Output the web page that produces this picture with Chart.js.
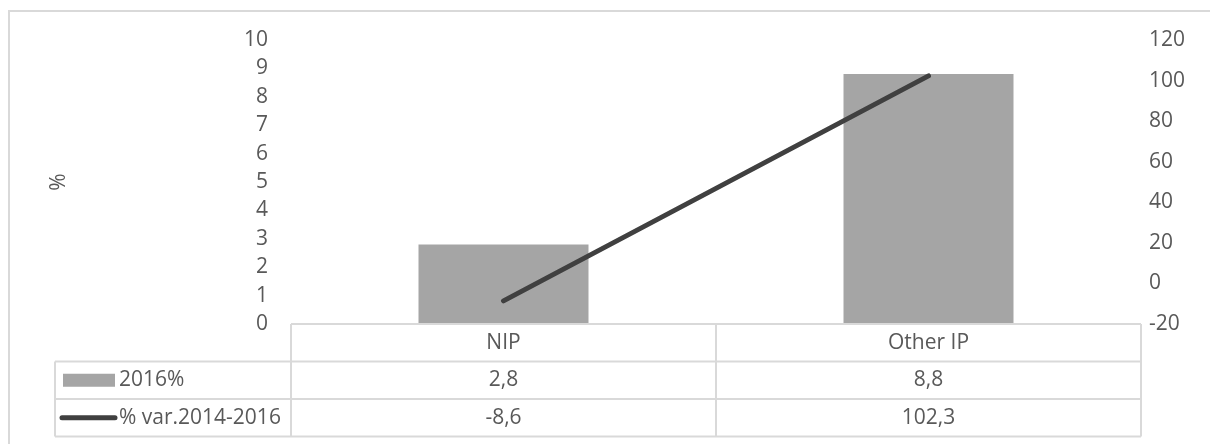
<!DOCTYPE html>
<html>
<head>
<meta charset="utf-8">
<script src="https://cdn.jsdelivr.net/npm/chart.js@4"></script>
<style>
  html, body { margin: 0; padding: 0; background: #ffffff; }
  #wrap { width: 1210px; height: 444px; }
</style>
</head>
<body>
<div id="wrap"><canvas id="chart" width="1210" height="444"></canvas></div>
<script>
// Categories and series
const categories = ['NIP', 'Other IP'];
const share2016 = [2.8, 8.8];          // 2016% (left axis)
const var2014_2016 = [-8.6, 102.3];    // % var.2014-2016 (right axis)
const seriesNames = ['2016%', '% var.2014-2016'];

const FONT = '"Open Sans", "DejaVu Sans", sans-serif';
const FSIZE = 21;
const TEXT = '#595959';
const RULE = '#d9d9d9';
const BAR = '#a5a5a5';
const LINE = '#404040';

const fmt = v => v.toFixed(1).replace('.', ',');

// Draws the outer frame and the data table under the plot
const dataTable = {
  id: 'dataTable',
  afterDraw(chart) {
    const ctx = chart.ctx;
    const xs = chart.scales.x;
    const area = chart.chartArea;
    const n = categories.length;
    const colW = (xs.right - xs.left) / n;
    const rowH = 37.5;
    const tableLeft = 55;
    const r0 = area.bottom;
    const rows = [r0, r0 + rowH, r0 + 2 * rowH, r0 + 3 * rowH];

    ctx.save();
    // outer frame
    ctx.strokeStyle = RULE;
    ctx.lineWidth = 2;
    ctx.strokeRect(9, 11, 1220, 450);

    // table grid
    ctx.beginPath();
    ctx.moveTo(xs.left, rows[0]); ctx.lineTo(xs.right, rows[0]);
    for (let i = 1; i < rows.length; i++) {
      ctx.moveTo(tableLeft, rows[i]); ctx.lineTo(xs.right, rows[i]);
    }
    ctx.moveTo(tableLeft, rows[1]); ctx.lineTo(tableLeft, rows[3]);
    for (let c = 0; c <= n; c++) {
      const x = xs.left + c * colW;
      ctx.moveTo(x, rows[0]); ctx.lineTo(x, rows[3]);
    }
    ctx.stroke();

    // cell text
    ctx.fillStyle = TEXT;
    ctx.font = FSIZE + 'px ' + FONT;
    ctx.textBaseline = 'middle';
    ctx.textAlign = 'center';
    for (let c = 0; c < n; c++) {
      const cx = xs.getPixelForValue(c);
      ctx.fillText(categories[c], cx, (rows[0] + rows[1]) / 2);
      ctx.fillText(fmt(share2016[c]), cx, (rows[1] + rows[2]) / 2);
      ctx.fillText(fmt(var2014_2016[c]), cx, (rows[2] + rows[3]) / 2);
    }

    // legend keys
    const y1 = (rows[1] + rows[2]) / 2;
    const y2 = (rows[2] + rows[3]) / 2;
    ctx.fillStyle = BAR;
    ctx.fillRect(63, y1 - 6.5, 52, 13);
    ctx.strokeStyle = LINE;
    ctx.lineWidth = 5;
    ctx.lineCap = 'round';
    ctx.beginPath();
    ctx.moveTo(62, y2); ctx.lineTo(115, y2);
    ctx.stroke();

    ctx.fillStyle = TEXT;
    ctx.textAlign = 'left';
    ctx.fillText(seriesNames[0], 119, y1);
    ctx.fillText(seriesNames[1], 119, y2);
    ctx.restore();
  }
};

new Chart(document.getElementById('chart'), {
  data: {
    labels: categories,
    datasets: [
      {
        type: 'line',
        label: seriesNames[1],
        data: var2014_2016,
        yAxisID: 'y1',
        borderColor: LINE,
        borderWidth: 5,
        borderCapStyle: 'round',
        pointRadius: 0,
        fill: false,
        order: 0
      },
      {
        type: 'bar',
        label: seriesNames[0],
        data: share2016,
        yAxisID: 'y',
        backgroundColor: BAR,
        borderWidth: 0,
        categoryPercentage: 1,
        barPercentage: 0.4,
        order: 1
      }
    ]
  },
  options: {
    responsive: false,
    animation: false,
    devicePixelRatio: 1,
    layout: { padding: { top: 40, bottom: 120, left: 0, right: 0 } },
    plugins: { legend: { display: false }, tooltip: { enabled: false } },
    scales: {
      x: { display: false, offset: true },
      y: {
        position: 'left',
        min: 0, max: 10,
        ticks: { stepSize: 1, padding: 23, color: TEXT, font: { family: FONT, size: FSIZE } },
        grid: { display: false, drawTicks: false },
        border: { display: false },
        title: { display: true, text: '%', color: TEXT, font: { family: FONT, size: FSIZE }, padding: { top: 46, bottom: 0 } },
        afterFit(s) { s.width = 291; }
      },
      y1: {
        position: 'right',
        min: -20, max: 120,
        ticks: { stepSize: 20, padding: 8, color: TEXT, font: { family: FONT, size: FSIZE } },
        grid: { display: false, drawTicks: false },
        border: { display: false },
        afterFit(s) { s.width = 69; }
      }
    }
  },
  plugins: [dataTable]
});
</script>
</body>
</html>
